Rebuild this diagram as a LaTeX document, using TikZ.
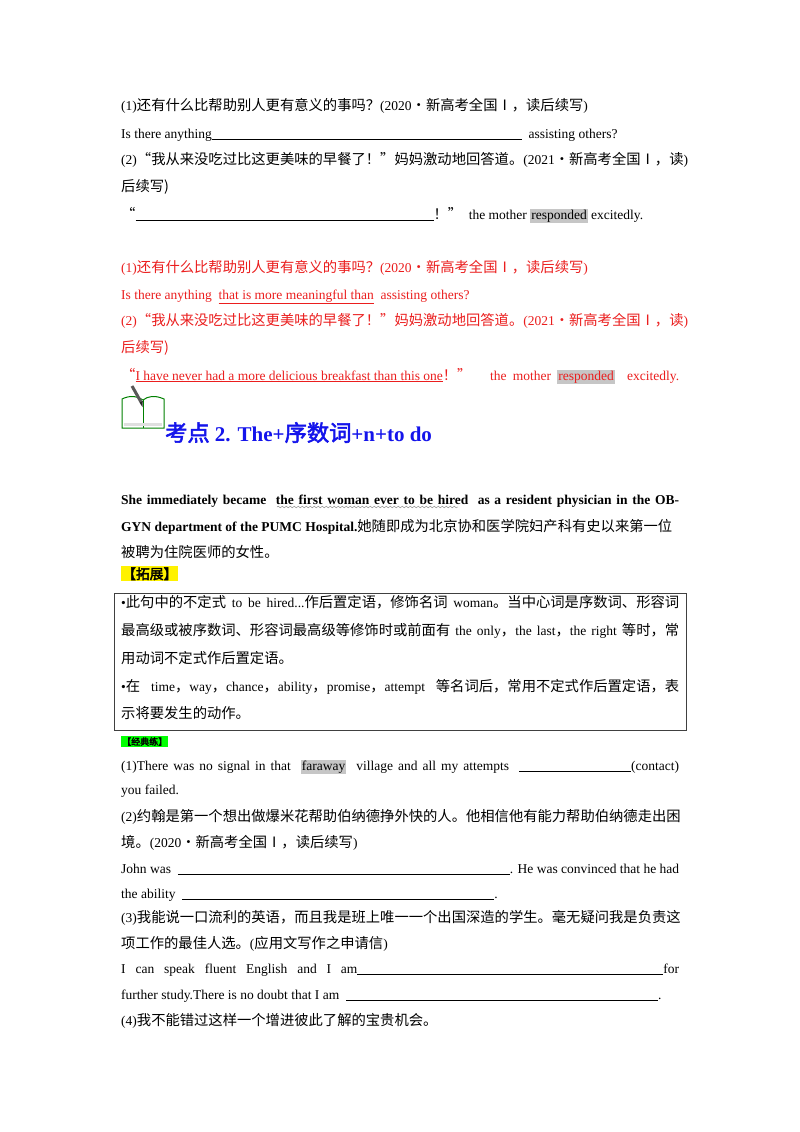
\documentclass[tikz,border=0pt]{standalone}
\usepackage{fontspec}
\usepackage{xcolor}
\setmainfont{Liberation Serif}
\newfontfamily\zh[AutoFakeBold=2.5,Scale=1.06]{Noto Sans CJK SC}
\XeTeXlinebreaklocale "zh"
\XeTeXlinebreakskip=0pt plus 3pt minus 0.5pt
\usetikzlibrary{decorations.pathmorphing}
\definecolor{rd}{RGB}{235,30,30}
\definecolor{bl}{RGB}{20,20,235}
\newcommand{\blank}[1]{\underline{\hspace{#1pt}}}
\newcommand{\hl}[1]{{\fboxsep=1pt\colorbox{gray!45}{#1}}}
\newcommand{\jus}[1]{\makebox[558pt][s]{#1}}
\begin{document}
\begin{tikzpicture}[x=1pt,y=-1pt,
  ln/.style={anchor=base west,inner sep=0pt,font=\fontsize{13.5}{16}\selectfont},
  red/.style={text=rd}]
\useasboundingbox[fill=white] (0,0) rectangle (800,1132);
% --- exercise
\node[ln] (l1) at (121,110) {(1){\zh 还有什么比帮助别人更有意义的事吗？}(2020{\zh·新高考全国Ⅰ，读后续写})};
\node[ln] (l2) at (121,138) {Is there anything\blank{310}\ \ assisting others?};
\node[ln] (l3) at (121,164) {\jus{(2){\zh“我从来没吃过比这更美味的早餐了！”妈妈激动地回答道。}(2021{\zh·新高考全国Ⅰ，读})}};
\node[ln] (l4) at (121,191) {\zh 后续写)};
\node[ln] (l5) at (121,219) {{\zh“}\blank{298}{\zh！”}\ \ the mother \hl{responded}\ excitedly.};
% --- answers
\node[ln,red] (a1) at (121,272) {(1){\zh 还有什么比帮助别人更有意义的事吗？}(2020{\zh·新高考全国Ⅰ，读后续写})};
\node[ln,red] (a2) at (121,299) {Is there anything\ \ \underline{that is more meaningful than}\ \ assisting others?};
\node[ln,red] (a3) at (121,325) {\jus{(2){\zh“我从来没吃过比这更美味的早餐了！”妈妈激动地回答道。}(2021{\zh·新高考全国Ⅰ，读})}};
\node[ln,red] (a4) at (121,352) {\zh 后续写)};
\node[ln,red] (a5) at (121,380) {\jus{{\zh“}\underline{I have never had a more delicious breakfast than this one}{\zh！”}\ \ \ the mother \hl{responded}\ \ excitedly.}};
% --- icon
\draw[green!50!black,line width=1pt,fill=white] (122,399) -- (122,428) -- (164,428) -- (164,399) .. controls (155,395) and (148,396) .. (143,400) .. controls (138,396) and (130,395) .. (122,399) -- cycle;
\draw[green!50!black,line width=0.7pt] (143,400) -- (143,428);
\fill[gray!25] (124,423) rectangle (162,426);
\draw[black!65,line width=3pt] (132,386) -- (141,402);
\fill[black!85] (139.5,402.5) -- (142.5,407) -- (142.8,401) -- cycle;
% --- heading
\node[anchor=base west,inner sep=0pt,text=bl,font=\fontsize{21}{24}\selectfont\bfseries] (h) at (165,441) {{\zh\bfseries 考点} 2. The+{\zh\bfseries 序数词}+n+to do};
% --- example sentence
\node[ln,font=\fontsize{13.5}{16}\selectfont\bfseries] (s1) at (121,504) {\jus{She immediately became\ \ the first woman ever to be hired\ \ as a resident physician in the OB-}};
\draw[decorate,decoration={snake,amplitude=0.8pt,segment length=4pt},gray] (277,507) -- (458,507);
\node[ln] (s2) at (121,531) {\textbf{GYN department of the PUMC Hospital.}{\zh 她随即成为北京协和医学院妇产科有史以来第一位}};
\node[ln] (s3) at (121,557) {\zh 被聘为住院医师的女性。};
\node[anchor=base west,inner sep=1pt,fill=yellow,font=\fontsize{13}{15}\selectfont] (t1) at (121,579) {\zh\bfseries 【拓展】};
% --- box
\draw[black!75,line width=0.8pt] (114,593) rectangle (686,730);
\node[ln] (b1) at (121,607) {\jus{\textbullet{\zh 此句中的不定式} to be hired...{\zh 作后置定语，修饰名词} woman{\zh 。当中心词是序数词、形容词}}};
\node[ln] (b2) at (121,635) {\jus{{\zh 最高级或被序数词、形容词最高级等修饰时或前面有} the only{\zh ，}the last{\zh ，}the right {\zh 等时，常}}};
\node[ln] (b3) at (121,663) {\zh 用动词不定式作后置定语。};
\node[ln] (b4) at (121,691) {\jus{\textbullet{\zh 在} time{\zh ，}way{\zh ，}chance{\zh ，}ability{\zh ，}promise{\zh ，}attempt {\zh 等名词后，常用不定式作后置定语，表}}};
\node[ln] (b5) at (121,718) {\zh 示将要发生的动作。};
\node[anchor=base west,inner sep=1pt,fill=green,font=\fontsize{8.5}{10}\selectfont] (t2) at (121,745) {\zh\bfseries 【经典练】};
% --- practice
\node[ln] (p1) at (121,770) {\jus{(1)There was no signal in that\ \ \hl{faraway}\ \ village and all my attempts\ \ \blank{112}(contact)}};
\node[ln] (p2) at (121,794) {you failed.};
\node[ln] (p3) at (121,821) {\jus{(2){\zh 约翰是第一个想出做爆米花帮助伯纳德挣外快的人。他相信他有能力帮助伯纳德走出困}}};
\node[ln] (p4) at (121,847) {{\zh 境。}(2020{\zh·新高考全国Ⅰ，读后续写})};
\node[ln] (p5) at (121,873) {\jus{John was\ \ \blank{332}. He was convinced that he had}};
\node[ln] (p6) at (121,898) {the ability\ \ \blank{312}.};
\node[ln] (p7) at (121,922) {\jus{(3){\zh 我能说一口流利的英语，而且我是班上唯一一个出国深造的学生。毫无疑问我是负责这}}};
\node[ln] (p8) at (121,948) {{\zh 项工作的最佳人选。}({\zh 应用文写作之申请信})};
\node[ln] (p9) at (121,973) {\jus{I can speak fluent English and I am\blank{306}for}};
\node[ln] (p10) at (121,999) {further study.There is no doubt that I am\ \ \blank{312}.};
\node[ln] (p11) at (121,1025) {(4){\zh 我不能错过这样一个增进彼此了解的宝贵机会。}};
\end{tikzpicture}
\end{document}
